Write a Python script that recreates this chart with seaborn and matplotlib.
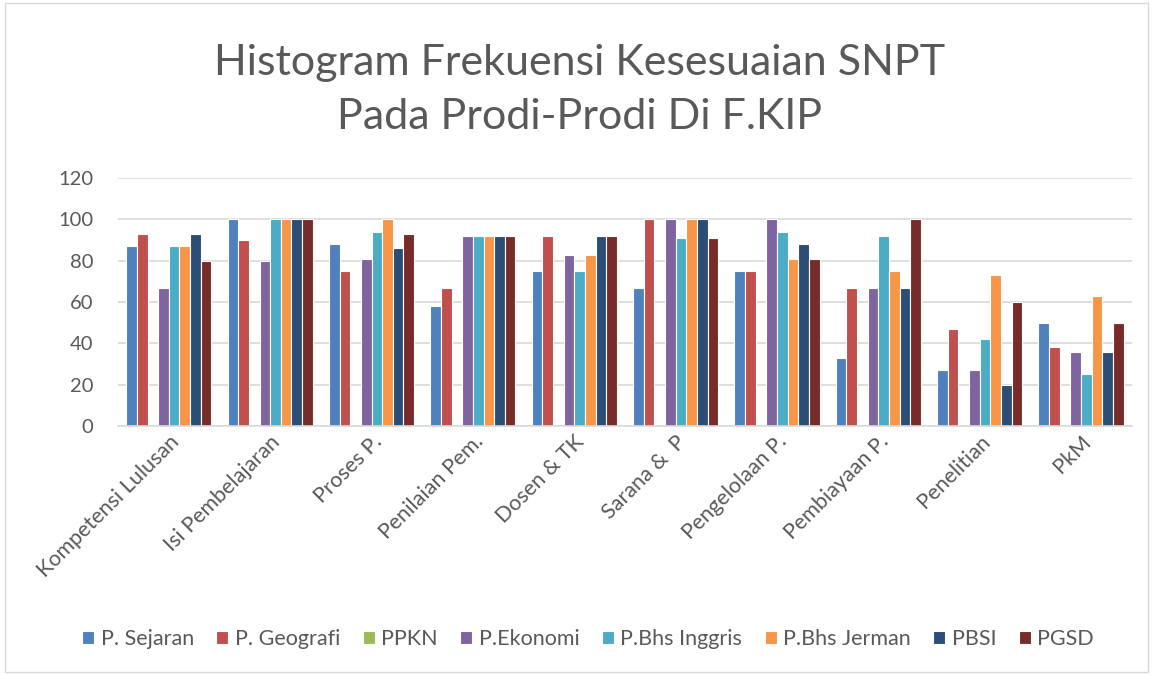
import matplotlib
matplotlib.use("Agg")
import matplotlib.pyplot as plt
import numpy as np
import pandas as pd
import seaborn as sns

kategori = ["Kompetensi Lulusan", "Isi Pembelajaran", "Proses P.", "Penilaian Pem.",
            "Dosen & TK", "Sarana &  P", "Pengelolaan P.", "Pembiayaan P.",
            "Penelitian", "PkM"]
prodi = ["P. Sejaran", "P. Geografi", "PPKN", "P.Ekonomi", "P.Bhs Inggris",
         "P.Bhs Jerman", "PBSI", "PGSD"]

p_sejaran = [87, 100, 88, 58, 75, 67, 75, 33, 27, 50]
p_geografi = [93, 90, 75, 67, 92, 100, 75, 67, 47, 38]
ppkn = [0, 0, 0, 0, 0, 0, 0, 0, 0, 0]
p_ekonomi = [67, 80, 81, 92, 83, 100, 100, 67, 27, 36]
p_inggris = [87, 100, 94, 92, 75, 91, 94, 92, 42, 25]
p_jerman = [87, 100, 100, 92, 83, 100, 81, 75, 73, 63]
pbsi = [93, 100, 86, 92, 92, 100, 88, 67, 20, 36]
pgsd = [80, 100, 93, 92, 92, 91, 81, 100, 60, 50]

warna = ["#4F81BD", "#C0504D", "#9BBB59", "#8064A2", "#4BACC6",
         "#F79646", "#2C4D75", "#772C2A"]

nilai = [p_sejaran, p_geografi, ppkn, p_ekonomi, p_inggris, p_jerman, pbsi, pgsd]
df = pd.DataFrame({
    "Standar": kategori * len(prodi),
    "Prodi": np.repeat(prodi, len(kategori)),
    "Persen": np.concatenate(nilai),
})

sns.set_theme(style="white")
plt.rcParams["font.family"] = ["Lato", "DejaVu Sans"]
teks = "#595959"

fig = plt.figure(figsize=(11.53, 6.75), dpi=100)
ax = fig.add_axes([0.1025, 0.369, 0.879, 0.367])

sns.barplot(data=df, x="Standar", y="Persen", hue="Prodi", hue_order=prodi,
            palette=warna, saturation=1, width=0.84, edgecolor="white",
            linewidth=0.8, ax=ax, legend=True)

ax.set_ylim(0, 120)
ax.set_yticks(range(0, 121, 20))
ax.set_xlim(-0.5, len(kategori) - 0.5)
ax.yaxis.grid(True, color="#D9D9D9", linewidth=1.2)
ax.set_axisbelow(True)
for s in ["left", "right", "top"]:
    ax.spines[s].set_visible(False)
ax.spines["bottom"].set_color("#D9D9D9")
ax.spines["bottom"].set_linewidth(1.2)
ax.set_xlabel("")
ax.set_ylabel("")
ax.tick_params(axis="y", labelsize=14.5, colors=teks, length=0, pad=18)
ax.tick_params(axis="x", labelsize=15.5, colors=teks, length=0, pad=4)
plt.setp(ax.get_xticklabels(), rotation=45, ha="right", rotation_mode="anchor")

handles, labels = ax.get_legend_handles_labels()
ax.legend_.remove()
fig.legend(handles, labels, loc="center", bbox_to_anchor=(0.51, 0.053), ncol=8,
           frameon=False, fontsize=15.5, handlelength=0.55, handleheight=0.55,
           handletextpad=0.3, columnspacing=1.05, labelcolor=teks)

fig.text(0.503, 0.867, "Histogram Frekuensi Kesesuaian SNPT\nPada Prodi-Prodi Di F.KIP",
         ha="center", va="center", fontsize=31, color=teks, linespacing=1.5)

fig.patches.append(plt.Rectangle((0.004, 0.004), 0.992, 0.992, transform=fig.transFigure,
                                 fill=False, edgecolor="#D9D9D9", linewidth=1))

fig.savefig("out.png", dpi=100)
